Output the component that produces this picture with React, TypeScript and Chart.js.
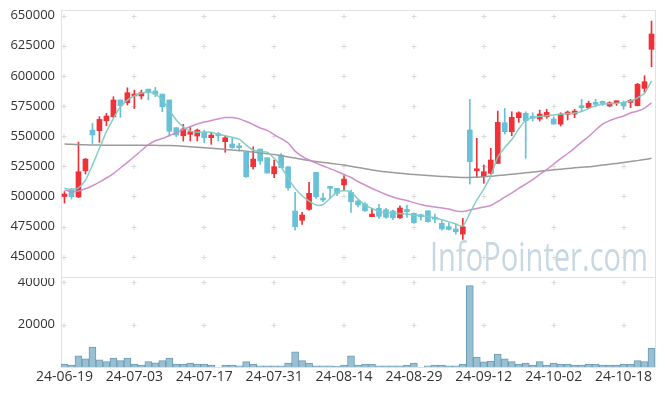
import React, { useEffect, useRef } from 'react';
import { Chart, registerables } from 'chart.js';

Chart.register(...registerables);

const dates = [
  '24-06-19','24-06-20','24-06-21','24-06-24','24-06-25','24-06-26','24-06-27','24-06-28','24-07-01','24-07-02',
  '24-07-03','24-07-04','24-07-05','24-07-08','24-07-09','24-07-10','24-07-11','24-07-12','24-07-15','24-07-16',
  '24-07-17','24-07-18','24-07-19','24-07-22','24-07-23','24-07-24','24-07-25','24-07-26','24-07-29','24-07-30',
  '24-07-31','24-08-01','24-08-02','24-08-05','24-08-06','24-08-07','24-08-08','24-08-09','24-08-12','24-08-13',
  '24-08-14','24-08-16','24-08-19','24-08-20','24-08-21','24-08-22','24-08-23','24-08-26','24-08-27','24-08-28',
  '24-08-29','24-08-30','24-09-02','24-09-03','24-09-04','24-09-05','24-09-06','24-09-09','24-09-10','24-09-11',
  '24-09-12','24-09-13','24-09-19','24-09-20','24-09-23','24-09-24','24-09-25','24-09-26','24-09-27','24-09-30',
  '24-10-02','24-10-04','24-10-07','24-10-08','24-10-10','24-10-11','24-10-14','24-10-15','24-10-16','24-10-17',
  '24-10-18','24-10-21','24-10-22','24-10-23','24-10-24',
];

const opens = [
  500000,505300,499500,521300,555000,554500,562800,566100,580000,577700,
  583300,583300,589000,587400,584900,580000,557000,550300,551500,550100,
  553200,548700,552000,545400,543500,540900,536600,524600,539300,532100,
  518800,534300,524600,487900,480200,489300,520000,497800,508000,506700,
  509500,503400,496200,493700,483200,490100,489000,487900,482300,489300,
  486000,484600,488100,482700,477700,474900,473000,468800,555100,521300,
  516300,519200,527400,561100,553700,565300,568900,565800,564200,566100,
  564200,560000,568100,568300,574400,573600,576600,577500,575000,577700,
  578000,578000,575200,589600,622000,
];
const highs = [
  504000,506700,545000,531500,560600,566100,568900,582700,580000,590100,
  588200,588200,589000,590500,584900,580000,557000,559800,558000,555900,
  555000,553200,553200,550100,548700,544000,536600,541200,539300,532100,
  530200,535500,524600,503400,486800,511700,520000,502600,508000,506700,
  517200,505300,497000,495000,490100,493400,490100,488700,492300,492900,
  486500,485400,488100,485400,479900,478200,476900,481800,580500,548200,
  526000,539900,570800,573000,570200,570200,570200,569400,571600,572200,
  566100,569400,570800,572200,580500,579100,580500,579100,578500,579100,
  579100,580500,593800,600100,645400,
];
const lows = [
  494500,497800,499000,518600,544000,544900,558600,565300,565600,575800,
  573000,580800,580000,582700,570200,550000,549500,545900,546000,546000,
  544500,543200,546000,536600,539900,537600,515800,522700,526600,519400,
  515500,523800,505300,472100,476900,488700,498400,495600,498400,500600,
  505300,486800,491400,487600,483200,481800,481800,480800,481800,482700,
  477700,480400,478600,478300,472100,472100,468800,464400,510300,516300,
  510900,518600,527400,551700,550300,561400,531600,562500,562500,564800,
  560000,558400,563400,565300,570200,573100,574400,575500,574400,575500,
  572200,573600,575200,586300,607500,
];
const closes = [
  502000,499800,520500,531000,551000,563900,566700,580000,575200,586000,
  584900,586000,586800,584700,574400,554000,550900,555900,553700,555000,
  548700,550900,550300,548700,540400,540400,516300,531000,529400,519400,
  524600,523800,507200,474900,484600,502600,499800,497000,506700,502600,
  514400,495600,492900,488100,485400,483500,482700,482300,490400,487300,
  478200,483200,479000,481200,473000,472700,470700,474900,528800,522700,
  520500,530200,561400,553700,565600,569400,562800,564800,568300,569700,
  560000,568300,570000,570800,573600,577200,576400,577100,577700,578500,
  575200,579700,593000,595100,634700,
];
const volumes = [
  1400,900,5200,3900,9400,3400,2500,4200,3000,4200,
  1400,900,2500,2000,3000,4200,1400,1400,1900,1400,
  1400,900,0,900,900,500,2500,1400,500,500,
  500,500,1900,7100,3000,1900,500,500,500,300,
  900,5200,900,1400,1400,500,500,500,500,900,
  1900,0,500,900,900,500,500,1400,38300,4700,
  2400,2800,6100,3900,2500,1400,1900,900,2500,900,
  1900,1400,1400,900,900,1400,1400,900,900,900,
  1400,1400,3000,2500,8900,
];
const ma5 = [
  506700,505900,507200,513600,526000,539900,553700,564800,574400,579900,
  583500,585500,586300,584900,579900,571600,563400,557800,554200,553200,
  553400,553200,551500,550300,549000,547600,542600,538500,537100,536800,
  531600,524600,515000,506700,500600,496200,492900,493300,498300,503700,
  504700,503700,497800,492900,490000,487500,486400,486200,485800,485400,
  484700,484200,483300,482100,480600,478900,477100,475500,486200,497000,
  506100,516900,532700,540600,547200,555900,563200,565300,566200,567000,
  567500,568200,568700,569200,570400,572900,575200,576400,576900,577300,
  578000,579100,581800,585500,595900,
];
const ma20 = [
  505300,503900,504500,506400,508900,511900,515300,519000,523600,528300,
  533100,538100,542900,546200,548000,550500,552800,555500,557800,560000,
  561700,562900,564300,565400,565400,564300,562100,559600,556700,554800,
  551300,548000,544300,537600,533300,530200,527700,525200,523100,520700,
  518200,515700,512400,509500,506600,504100,501600,499500,497800,496600,
  494900,493300,492000,491200,490400,489600,487900,487500,488700,490000,
  491200,492500,495800,499500,502800,506600,510300,514000,518200,522300,
  526900,531400,535600,540100,545100,549700,555100,560000,562900,565000,
  566700,569200,570800,573300,577500,
];
const ma120 = [
  543450,543200,543000,542800,542700,542600,542500,542450,542400,542400,
  542400,542400,542400,542350,542300,542300,542000,541600,541200,540800,
  540300,539900,539500,539000,538500,538100,537500,536800,536100,535400,
  534700,533800,532800,531800,530800,529800,529000,528200,527500,526800,
  526000,525000,524000,523000,522000,521000,520400,519800,519200,518700,
  518200,517800,517400,517000,516600,516300,516000,515700,515800,516000,
  516300,516800,517300,517800,518400,519000,519600,520200,520900,521500,
  522100,522600,523200,523700,524200,524600,525300,526000,526700,527400,
  528100,528900,529700,530600,531600,
];

const priceTicks = [450000, 475000, 500000, 525000, 550000, 575000, 600000, 625000, 650000];
const volumeTicks = [20000, 40000];
const PRICE_MIN = 433200;
const PRICE_MAX = 654600;
const VOLUME_MAX = 41900;
const TICK_EVERY = 10;
const WATERMARK = 'InfoPointer.com';

const UP = 'rgb(238,50,56)';
const DOWN = 'rgb(104,193,216)';
const FONT = '"Open Sans", "Noto Sans", sans-serif';
const BORDER = '#e2e2e2';
const CROSS = '#d9d9d9';

const xTickIdx = dates.map((_, i) => i).filter((i) => i % TICK_EVERY === 0);

function drawCrosses(chart: any, yTicks: number[], yId: string) {
  const { ctx, scales } = chart;
  ctx.save();
  ctx.strokeStyle = CROSS;
  ctx.lineWidth = 1;
  for (const i of xTickIdx) {
    const x = Math.round(scales.x.getPixelForValue(i)) - 0.5;
    for (const t of yTicks) {
      const y = Math.round(scales[yId].getPixelForValue(t)) + 0.5;
      ctx.beginPath();
      ctx.moveTo(x - 2, y);
      ctx.lineTo(x + 3, y);
      ctx.moveTo(x + 0.5, y - 2.5);
      ctx.lineTo(x + 0.5, y + 2.5);
      ctx.stroke();
    }
  }
  ctx.restore();
}

const priceDecor = {
  id: 'priceDecor',
  beforeDatasetsDraw(chart: any) {
    const { ctx, chartArea: a } = chart;
    ctx.save();
    ctx.font = '41px ' + FONT;
    ctx.fillStyle = 'rgb(200,216,226)';
    ctx.textAlign = 'right';
    ctx.textBaseline = 'alphabetic';
    ctx.fillText(WATERMARK, a.right - 7, a.bottom - 6, 218);
    ctx.restore();
    drawCrosses(chart, priceTicks, 'y');
    ctx.save();
    ctx.strokeStyle = BORDER;
    ctx.lineWidth = 1;
    ctx.strokeRect(a.left + 0.5, a.top + 0.5, a.right - a.left, a.bottom - a.top);
    ctx.restore();
  },
};

const volumeDecor = {
  id: 'volumeDecor',
  beforeDatasetsDraw(chart: any) {
    const { ctx, chartArea: a } = chart;
    drawCrosses(chart, volumeTicks, 'y');
    ctx.save();
    ctx.strokeStyle = BORDER;
    ctx.lineWidth = 1;
    ctx.beginPath();
    ctx.moveTo(a.left + 0.5, a.top);
    ctx.lineTo(a.left + 0.5, a.bottom + 0.5);
    ctx.lineTo(a.right + 0.5, a.bottom + 0.5);
    ctx.lineTo(a.right + 0.5, a.top);
    ctx.stroke();
    ctx.restore();
  },
};

const yAxisFit = (scale: any) => {
  scale.width = 61;
  scale.paddingTop = 0;
  scale.paddingBottom = 0;
};
const xAxisFit = (scale: any) => {
  scale.height = 29;
  scale.paddingLeft = 0;
  scale.paddingRight = 0;
};

export default function App() {
  const priceRef = useRef<HTMLCanvasElement>(null);
  const volRef = useRef<HTMLCanvasElement>(null);

  useEffect(() => {
    document.body.style.margin = '0';
    Chart.defaults.font.family = FONT;
    Chart.defaults.font.size = 13;
    Chart.defaults.color = '#333';

    const colors = closes.map((c, i) => (c >= opens[i] ? UP : DOWN));
    const bodies = opens.map((o, i) => [o, closes[i]]);
    const wicks = lows.map((l, i) => [l, highs[i]]);

    const lineDs = (label: string, data: number[], color: string) => ({
      type: 'line' as const,
      label,
      data,
      borderColor: color,
      borderWidth: 1.5,
      pointRadius: 0,
      tension: 0.25,
      fill: false,
    });

    const price = new Chart(priceRef.current!, {
      type: 'bar',
      data: {
        labels: dates,
        datasets: [
          lineDs('MA5', ma5, 'rgba(128,203,192,0.95)'),
          lineDs('MA20', ma20, 'rgba(204,138,200,0.95)'),
          lineDs('MA120', ma120, 'rgba(150,150,150,0.95)'),
          {
            type: 'bar',
            label: 'body',
            data: bodies as any,
            backgroundColor: colors,
            barThickness: 5,
            minBarLength: 2,
            grouped: false,
          } as any,
          {
            type: 'bar',
            label: 'wick',
            data: wicks as any,
            backgroundColor: colors,
            barThickness: 1,
            grouped: false,
          } as any,
        ],
      },
      options: {
        responsive: false,
        animation: false,
        layout: { padding: { top: 10, right: 10, bottom: 1, left: 0 } },
        plugins: { legend: { display: false }, tooltip: { enabled: false } },
        scales: {
          x: { type: 'category', display: false, offset: true, grid: { display: false } },
          y: {
            min: PRICE_MIN,
            max: PRICE_MAX,
            afterFit: yAxisFit,
            afterBuildTicks: (s: any) => {
              s.ticks = priceTicks.map((v) => ({ value: v }));
            },
            grid: { display: false, drawTicks: false },
            border: { display: false },
            ticks: { padding: 6, color: '#333', font: { size: 13 }, callback: (v: any) => String(v) },
          },
        },
      },
      plugins: [priceDecor],
    });

    const volume = new Chart(volRef.current!, {
      type: 'bar',
      data: {
        labels: dates,
        datasets: [
          {
            label: 'volume',
            data: volumes,
            backgroundColor: 'rgb(152,192,210)',
            borderColor: 'rgb(110,156,181)',
            borderWidth: { top: 1, left: 1, right: 1, bottom: 0 },
            barPercentage: 1,
            categoryPercentage: 1,
          },
        ],
      },
      options: {
        responsive: false,
        animation: false,
        layout: { padding: { top: 0, right: 10, bottom: 0, left: 0 } },
        plugins: { legend: { display: false }, tooltip: { enabled: false } },
        scales: {
          x: {
            type: 'category',
            offset: true,
            afterFit: xAxisFit,
            grid: { display: false, drawTicks: false },
            border: { display: false },
            ticks: {
              autoSkip: false,
              maxRotation: 0,
              padding: 2,
              color: '#333',
              font: { size: 14 },
              callback: (_v: any, i: number) => (i % TICK_EVERY === 0 ? dates[i] : ''),
            },
          },
          y: {
            min: 0,
            max: VOLUME_MAX,
            afterFit: yAxisFit,
            afterBuildTicks: (s: any) => {
              s.ticks = volumeTicks.map((v) => ({ value: v }));
            },
            grid: { display: false, drawTicks: false },
            border: { display: false },
            ticks: { padding: 6, color: '#333', font: { size: 13 }, callback: (v: any) => String(v) },
          },
        },
      },
      plugins: [volumeDecor],
    });

    return () => {
      price.destroy();
      volume.destroy();
    };
  }, []);

  return (
    <div style={{ position: 'relative', width: 665, height: 396, background: '#fff' }}>
      <canvas ref={priceRef} width={665} height={278} style={{ position: 'absolute', left: 0, top: 0 }} />
      <canvas ref={volRef} width={665} height={118} style={{ position: 'absolute', left: 0, top: 278 }} />
    </div>
  );
}
